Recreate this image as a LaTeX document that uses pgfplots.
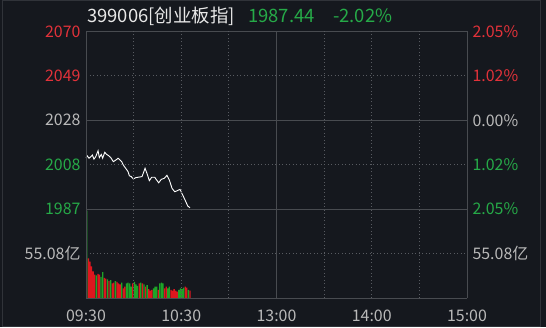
\documentclass[border=0pt]{standalone}
\usepackage{pgfplots}
\pgfplotsset{compat=1.18}
\usepackage{fontspec}
\setmainfont{Noto Sans CJK SC}
\definecolor{bg}{RGB}{21,24,30}
\definecolor{bord}{RGB}{48,51,57}
\definecolor{frm}{RGB}{72,75,80}
\definecolor{grd}{RGB}{88,91,97}
\definecolor{cred}{RGB}{226,50,58}
\definecolor{cgreen}{RGB}{38,170,72}
\definecolor{cgrey}{RGB}{185,185,185}
\definecolor{ctitle}{RGB}{232,232,232}
\definecolor{bred}{RGB}{222,22,30}
\definecolor{bgreen}{RGB}{30,165,40}
\begin{document}
\begin{tikzpicture}[x=1bp,y=1bp,font=\fontsize{16}{18}\selectfont]
\fill[bg] (0,0) rectangle (546,327);
\draw[bord,line width=1bp] (2,0.5) rectangle (540.5,326);
% title
\node[anchor=base west,text=ctitle,inner sep=0,font=\fontsize{18.5}{20}\selectfont] at (87,304.5) {399006[创业板指]};
\node[anchor=base west,text=cgreen,inner sep=0,font=\fontsize{18.5}{20}\selectfont] at (248,304.5) {1987.44};
\node[anchor=base west,text=cgreen,inner sep=0,font=\fontsize{18.5}{20}\selectfont] at (333,304.5) {-2.02\%};
% price panel
\begin{axis}[at={(86bp,118bp)},anchor=south west,scale only axis,width=381bp,height=177.5bp,
  xmin=0,xmax=240,ymin=1986.82,ymax=2069.98,hide axis,clip=false]
\draw[grd,line width=0.8bp,dash pattern=on 1bp off 2.5bp] (axis cs:0,2049.19) -- (axis cs:240,2049.19);
\draw[grd,line width=0.8bp,dash pattern=on 1bp off 2.5bp] (axis cs:0,2007.61) -- (axis cs:240,2007.61);
\draw[frm,line width=1bp] (axis cs:0,2028.4) -- (axis cs:240,2028.4);
\draw[frm,line width=1bp] (axis cs:0,2069.98) -- (axis cs:240,2069.98);
\draw[frm,line width=1bp] (axis cs:0,1986.82) -- (axis cs:240,1986.82);
\addplot[white,line width=0.9bp] coordinates {
(0,2010.9)(0.8,2011.7)(1.9,2010.6)(3.0,2011.3)(4.0,2012.1)(5.0,2010.2)(6.1,2011.3)(7.6,2014.1)(8.4,2010.9)(9.6,2012.4)(10.5,2010.6)(11.8,2013.4)(13.0,2012.4)(14.3,2011.8)(15.6,2010.9)(17.2,2009.0)(18.9,2009.8)(20.2,2010.6)(21.4,2009.8)(22.5,2009.0)(23.5,2007.4)(25.0,2005.9)(26.5,2004.3)(27.3,2002.4)(28.5,2002.0)(29.8,2000.9)(31.3,2001.5)(32.9,2001.7)(35.3,2002.0)(37.2,2005.9)(38.4,2003.5)(39.9,2000.1)(41.4,2001.7)(43.3,2001.7)(44.5,2000.4)(45.8,1999.1)(47.4,2000.7)(49.3,2001.2)(51.0,2002.6)(52.5,2000.4)(54.2,1996.5)(55.9,1994.9)(57.5,1995.4)(59.2,1996.0)(60.9,1993.4)(62.6,1990.7)(64.1,1988.2)(65.5,1987.44)};
% left labels
\node[anchor=east,text=cred,xshift=-2bp] at (axis cs:0,2069.98) {2070};
\node[anchor=east,text=cred,xshift=-2bp] at (axis cs:0,2049.19) {2049};
\node[anchor=east,text=cgrey,xshift=-2bp] at (axis cs:0,2028.4) {2028};
\node[anchor=east,text=cgreen,xshift=-2bp] at (axis cs:0,2007.61) {2008};
\node[anchor=east,text=cgreen,xshift=-2bp] at (axis cs:0,1986.82) {1987};
% right labels
\node[anchor=west,text=cred,xshift=2bp] at (axis cs:240,2069.98) {2.05\%};
\node[anchor=west,text=cred,xshift=2bp] at (axis cs:240,2049.19) {1.02\%};
\node[anchor=west,text=cgrey,xshift=2bp] at (axis cs:240,2028.4) {0.00\%};
\node[anchor=west,text=cgreen,xshift=2bp] at (axis cs:240,2007.61) {1.02\%};
\node[anchor=west,text=cgreen,xshift=2bp] at (axis cs:240,1986.82) {2.05\%};
\end{axis}
% volume panel
\begin{axis}[at={(86bp,29bp)},anchor=south west,scale only axis,width=381bp,height=89bp,
  xmin=0,xmax=240,ymin=0,ymax=110.16,hide axis,clip=false]
\draw[grd,line width=0.8bp,dash pattern=on 1bp off 2.5bp] (axis cs:0,55.08) -- (axis cs:240,55.08);
\addplot[ybar,bar width=1.3bp,bar shift=0pt,fill=bred,draw=none] coordinates {
(1.5,49)(2.5,45)(3.5,39)(4.5,33)(5.5,29)(7.5,30)(8.5,29)(11.5,25)(12.5,24)(14.5,21)(16.5,18)(17.5,19)(19.5,20)(20.5,18)(21.5,17)(23.5,12)(24.5,14)(29.5,18)(33.5,18)(35.5,18)(37.5,14)(39.5,11)(40.5,9)(41.5,10)(45.5,10)(49.5,12)(50.5,14)(53.5,10)(54.5,9)(55.5,11)(56.5,9)(57.5,8)(62.5,14)(63.5,13)(65.5,9)};
\addplot[ybar,bar width=1.3bp,bar shift=0pt,fill=bgreen,draw=none] coordinates {
(0.5,108)(6.5,28)(9.5,26)(10.5,32)(13.5,23)(15.5,22)(18.5,21)(22.5,19)(25.5,18)(26.5,19)(27.5,18)(28.5,14)(30.5,20)(31.5,17)(32.5,15)(34.5,19)(36.5,17)(38.5,16)(42.5,12)(43.5,14)(44.5,14)(46.5,18)(47.5,19)(48.5,18)(51.5,12)(52.5,14)(58.5,10)(59.5,12)(60.5,11)(61.5,13)(64.5,10)};
\draw[frm,line width=1bp] (axis cs:0,0) -- (axis cs:240,0);
\node[anchor=east,text=cgrey,xshift=-2bp] at (axis cs:0,55.08) {55.08亿};
\node[anchor=west,text=cgrey,xshift=2bp] at (axis cs:240,55.08) {55.08亿};
\node[anchor=base,text=cgrey,yshift=-23bp] at (axis cs:0,0) {09:30};
\node[anchor=base,text=cgrey,yshift=-23bp] at (axis cs:60,0) {10:30};
\node[anchor=base,text=cgrey,yshift=-23bp] at (axis cs:120,0) {13:00};
\node[anchor=base,text=cgrey,yshift=-23bp] at (axis cs:180,0) {14:00};
\node[anchor=base,text=cgrey,yshift=-23bp] at (axis cs:240,0) {15:00};
\end{axis}
% frame and vertical grid across both panels
\begin{axis}[at={(86bp,29bp)},anchor=south west,scale only axis,width=381bp,height=266.5bp,
  xmin=0,xmax=240,ymin=0,ymax=1,hide axis,clip=false]
\draw[frm,line width=1bp] (axis cs:0,0) -- (axis cs:0,1);
\draw[frm,line width=1bp] (axis cs:240,0) -- (axis cs:240,1);
\draw[frm,line width=1bp] (axis cs:120,0) -- (axis cs:120,1);
\pgfplotsinvokeforeach{30,60,90,150,180,210}{
  \draw[grd,line width=0.8bp,dash pattern=on 1bp off 2.5bp] (axis cs:#1,0) -- (axis cs:#1,1);
}
\end{axis}
\end{tikzpicture}
\end{document}
